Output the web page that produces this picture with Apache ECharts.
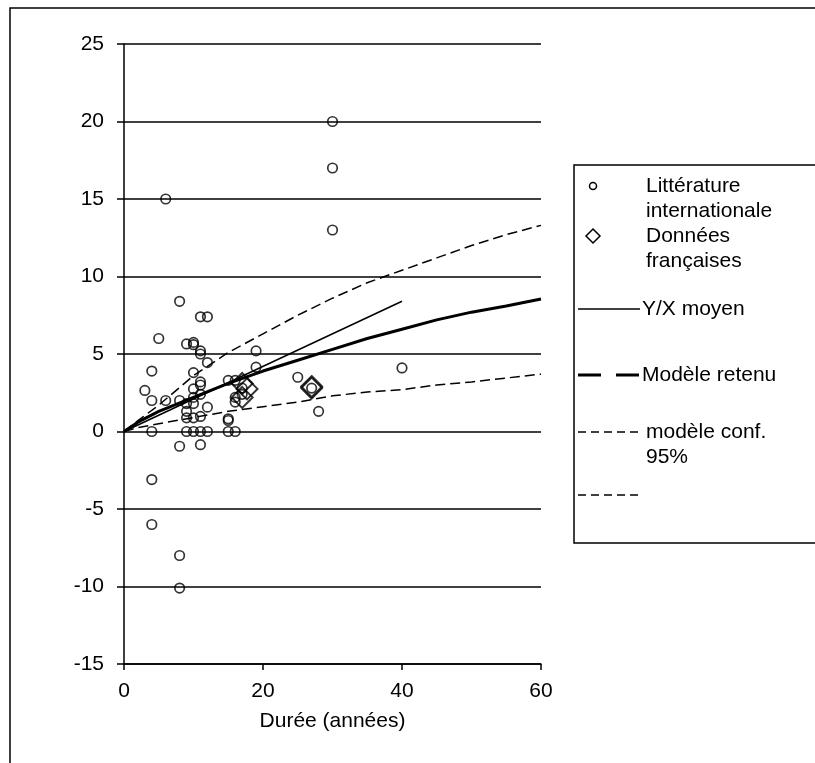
<!DOCTYPE html>
<html>
<head>
<meta charset="utf-8">
<script src="https://cdn.jsdelivr.net/npm/echarts@6/dist/echarts.min.js"></script>
<style>
html,body{margin:0;padding:0;background:#fff;}
#c{width:815px;height:763px;}
</style>
</head>
<body>
<div id="c"></div>
<script>
// Littérature internationale (x = durée, y = valeur)
const litX = [6,30,30,30, 8,11,12, 5,9,10,10,11,11,12,19,19, 4,10,11,11,3,10,11,15,16, 4,6,8,10,9,10,9,12,9,10,11,15,15,16,16,17,17, 4,9,10,11,12,15,16, 8,11,4,4,8,8, 25,28,40,27];
const litY = [15,20,17,13, 8.4,7.4,7.4, 6,5.65,5.75,5.6,5.2,5.0,4.45,5.2,4.15, 3.9,3.8,3.2,3.0,2.65,2.75,2.4,3.3,3.3, 2,2,2,2.2,1.8,1.8,1.3,1.57,0.88,0.88,0.97,0.82,0.71,2.2,1.9,2.8,2.4, 0,0,0,0,0,0,0, -0.95,-0.85,-3.1,-6,-8,-10.1, 3.5,1.3,4.1,2.8];
// Données françaises
const frX = [17,17.7,17,27,27];
const frY = [3.1,2.75,2.2,2.8,2.9];
// Y/X moyen
const moyX = [0,40];
const moyY = [0,8.4];
// Modèle retenu and 95% confidence bounds
const modX = [0,2,5,10,15,20,25,30,35,40,45,50,55,60];
const modY = [0,0.6,1.3,2.2,3.1,3.9,4.6,5.3,6.0,6.6,7.2,7.7,8.1,8.55];
const hiY  = [0,0.7,1.7,3.6,5.1,6.3,7.5,8.6,9.6,10.4,11.2,12.0,12.7,13.3];
const loY  = [0,0.25,0.5,0.9,1.3,1.6,1.9,2.3,2.55,2.7,3.0,3.2,3.45,3.7];
// Axis ticks
const xTicks = {min:0, max:60, step:20};
const yTicks = {min:-15, max:25, step:5};
const legendLabels = ['Littérature', 'internationale', 'Données', 'françaises', 'Y/X moyen', 'Modèle retenu', 'modèle conf.', '95%'];

const zip = (a,b) => a.map((v,i)=>[v,b[i]]);
const FONT = 'Liberation Sans, Arial, sans-serif';
const FS = 21;
const chart = echarts.init(document.getElementById('c'));
const T = (x,y,text) => ({type:'text', x:x, y:y, style:{text:text, fill:'#000', font:FS+'px '+FONT, verticalAlign:'middle', textVerticalAlign:'middle'}});
const L = (x1,y,x2,w,dash) => ({type:'line', shape:{x1:x1,y1:y,x2:x2,y2:y}, style:{stroke:'#000', lineWidth:w, lineDash:dash||null}});

chart.setOption({
  animation:false,
  backgroundColor:'#fff',
  grid:{left:124, right:274, top:44, bottom:99, containLabel:false},
  xAxis:{
    type:'value', min:xTicks.min, max:xTicks.max, interval:xTicks.step,
    name:'Durée (années)', nameLocation:'middle', nameGap:47,
    nameTextStyle:{color:'#000', fontSize:FS, fontFamily:FONT},
    axisLine:{show:true, onZero:false, lineStyle:{color:'#000', width:1.5}},
    axisTick:{show:true, length:6, lineStyle:{color:'#000', width:1.5}},
    axisLabel:{color:'#000', fontSize:FS, fontFamily:FONT, margin:17},
    splitLine:{show:false}
  },
  yAxis:{
    type:'value', min:yTicks.min, max:yTicks.max, interval:yTicks.step,
    axisLine:{show:true, onZero:false, lineStyle:{color:'#000', width:1.5}},
    axisTick:{show:true, length:7, lineStyle:{color:'#000', width:1.5}},
    axisLabel:{color:'#000', fontSize:FS, fontFamily:FONT, margin:20},
    splitLine:{show:true, lineStyle:{color:'#000', width:1.5}}
  },
  series:[
    {type:'line', name:'modèle conf. 95% haut', data:zip(modX,hiY), showSymbol:false, symbol:'none',
     lineStyle:{color:'#000', width:1.5, type:[10,5]}, z:2},
    {type:'line', name:'modèle conf. 95% bas', data:zip(modX,loY), showSymbol:false, symbol:'none',
     lineStyle:{color:'#000', width:1.5, type:[10,5]}, z:2},
    {type:'line', name:'Y/X moyen', data:zip(moyX,moyY), showSymbol:false, symbol:'none',
     lineStyle:{color:'#000', width:1.5}, z:2},
    {type:'line', name:'Modèle retenu', data:zip(modX,modY), showSymbol:false, symbol:'none',
     lineStyle:{color:'#000', width:3}, z:3},
    {type:'scatter', name:'Données françaises', data:zip(frX,frY), symbol:'diamond', symbolSize:21,
     itemStyle:{color:'rgba(255,255,255,0)', borderColor:'#000', borderWidth:2}, z:4},
    {type:'scatter', name:'Littérature internationale', data:zip(litX,litY), symbol:'circle', symbolSize:9.5,
     itemStyle:{color:'rgba(255,255,255,0)', borderColor:'#000', borderWidth:1.7}, z:5}
  ],
  graphic:[
    {type:'rect', shape:{x:10, y:8, width:900, height:900}, style:{fill:'none', stroke:'#000', lineWidth:1.5}, silent:true},
    {type:'rect', shape:{x:574, y:165, width:300, height:378}, style:{fill:'#fff', stroke:'#000', lineWidth:1.5}, silent:true},
    {type:'circle', shape:{cx:593, cy:186, r:3.5}, style:{fill:'none', stroke:'#000', lineWidth:1.5}},
    T(646,186,legendLabels[0]), T(646,211,legendLabels[1]),
    {type:'polygon', shape:{points:[[593,229],[600,236],[593,243],[586,236]]}, style:{fill:'none', stroke:'#000', lineWidth:1.5}},
    T(646,236,legendLabels[2]), T(646,261,legendLabels[3]),
    L(578,309,640,1.5), T(642,309,legendLabels[4]),
    L(578,375,639,3,[23,15]), T(642,375,legendLabels[5]),
    L(578,432,640,1.5,[8,5]), T(646,432,legendLabels[6]), T(646,457,legendLabels[7]),
    L(578,495,640,1.5,[8,5])
  ]
});
</script>
</body>
</html>
